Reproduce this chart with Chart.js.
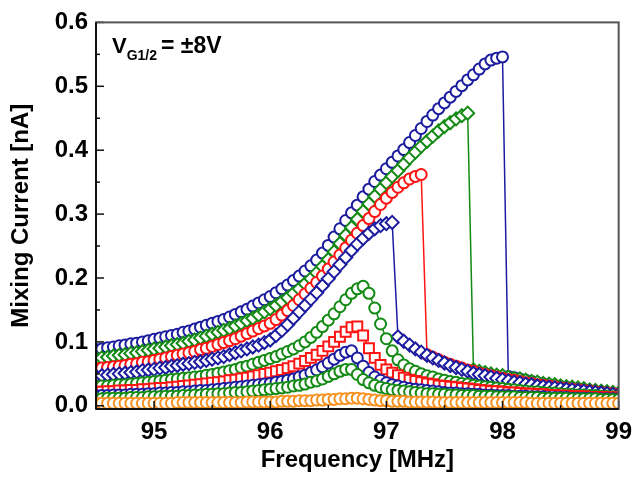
<!DOCTYPE html>
<html><head><meta charset="utf-8">
<script src="https://cdn.jsdelivr.net/npm/chart.js@4/dist/chart.umd.min.js"></script>
<style>html,body{margin:0;padding:0;background:#fff}canvas{display:block}</style>
</head><body>
<canvas id="c" width="641" height="477"></canvas>
<script>
// Frequency grid [MHz]
const FREQ = [
94.50,94.55,94.60,94.65,94.70,94.75,94.80,94.85,94.90,94.95,
95.00,95.05,95.10,95.15,95.20,95.25,95.30,95.35,95.40,95.45,
95.50,95.55,95.60,95.65,95.70,95.75,95.80,95.85,95.90,95.95,
96.00,96.05,96.10,96.15,96.20,96.25,96.30,96.35,96.40,96.45,
96.50,96.55,96.60,96.65,96.70,96.75,96.80,96.85,96.90,96.95,
97.00,97.05,97.10,97.15,97.20,97.25,97.30,97.35,97.40,97.45,
97.50,97.55,97.60,97.65,97.70,97.75,97.80,97.85,97.90,97.95,
98.00,98.05,98.10,98.15,98.20,98.25,98.30,98.35,98.40,98.45,
98.50,98.55,98.60,98.65,98.70,98.75,98.80,98.85,98.90,98.95,
99.00];

// Mixing current [nA], one array per drive level
const S9_BLUE_CIRCLE = [
.088,.089,.091,.092,.094,.095,.097,.098,.100,.102,
.104,.106,.108,.110,.112,.115,.117,.120,.123,.126,
.129,.132,.135,.139,.143,.147,.151,.156,.161,.166,
.171,.177,.183,.189,.196,.203,.211,.219,.228,.239,
.251,.264,.277,.290,.302,.314,.327,.339,.351,.361,
.371,.381,.391,.401,.412,.423,.434,.445,.455,.465,
.474,.483,.492,.501,.510,.518,.527,.535,.541,.544,
.546,.046,.044,.042,.040,.038,.036,.034,.033,.031,
.030,.029,.027,.026,.025,.024,.022,.021,.020,.019,
.018];
const S8_GREEN_DIAMOND = [
.074,.075,.076,.078,.079,.080,.082,.083,.085,.087,
.089,.090,.092,.094,.096,.098,.101,.103,.106,.109,
.112,.115,.118,.121,.125,.129,.133,.137,.142,.147,
.152,.157,.163,.169,.176,.183,.191,.199,.208,.218,
.229,.241,.254,.267,.279,.292,.304,.316,.328,.339,
.349,.359,.368,.378,.388,.397,.406,.414,.422,.430,
.437,.443,.449,.454,.458,.056,.054,.052,.050,.048,
.047,.045,.043,.042,.040,.038,.037,.035,.034,.033,
.031,.030,.029,.028,.027,.025,.024,.023,.022,.021,
.020];
const S7_RED_CIRCLE = [
.058,.059,.060,.061,.062,.063,.065,.066,.068,.069,
.071,.073,.075,.077,.079,.081,.083,.085,.088,.090,
.093,.096,.099,.102,.105,.109,.113,.117,.121,.125,
.129,.135,.142,.149,.157,.166,.175,.184,.193,.203,
.214,.225,.236,.247,.259,.270,.282,.293,.304,.315,
.325,.334,.342,.349,.355,.359,.362,.080,.076,.072,
.068,.065,.062,.059,.056,.054,.051,.049,.047,.045,
.043,.041,.040,.038,.036,.035,.033,.032,.031,.030,
.028,.027,.026,.025,.024,.023,.022,.021,.020,.019,
.018];
const S6_BLUE_DIAMOND = [
.046,.047,.048,.049,.050,.051,.052,.053,.055,.056,
.057,.059,.060,.062,.063,.065,.066,.068,.069,.071,
.073,.075,.077,.080,.083,.086,.089,.092,.095,.099,
.103,.110,.118,.127,.137,.147,.157,.167,.177,.188,
.199,.210,.221,.232,.243,.253,.262,.270,.277,.282,
.285,.287,.108,.101,.095,.089,.084,.079,.075,.071,
.067,.063,.060,.057,.054,.051,.049,.047,.045,.043,
.041,.039,.037,.036,.034,.033,.031,.030,.029,.028,
.027,.026,.025,.024,.023,.022,.021,.020,.019,.018,
.017];
const S5_GREEN_CIRCLE = [
.030,.031,.031,.032,.033,.033,.034,.035,.036,.037,
.038,.039,.040,.041,.042,.043,.044,.045,.046,.048,
.049,.051,.053,.055,.057,.060,.062,.065,.068,.071,
.074,.077,.081,.085,.089,.094,.100,.107,.115,.124,
.134,.144,.155,.166,.176,.183,.187,.176,.153,.128,
.105,.086,.072,.064,.058,.054,.050,.047,.045,.042,
.040,.038,.037,.035,.034,.032,.031,.030,.029,.028,
.027,.026,.025,.024,.023,.022,.022,.021,.020,.020,
.019,.018,.018,.017,.017,.016,.016,.015,.015,.014,
.014];
const S4_RED_SQUARE = [
.022,.022,.023,.023,.024,.024,.025,.025,.026,.026,
.027,.028,.028,.029,.030,.031,.032,.033,.034,.035,
.036,.037,.038,.040,.041,.043,.044,.046,.048,.050,
.052,.054,.056,.059,.062,.066,.070,.075,.080,.086,
.093,.100,.108,.116,.123,.124,.110,.090,.075,.064,
.057,.052,.048,.044,.041,.039,.037,.035,.034,.032,
.031,.030,.029,.028,.027,.026,.025,.024,.023,.023,
.022,.021,.021,.020,.019,.019,.018,.018,.017,.017,
.016,.016,.015,.015,.015,.014,.014,.014,.013,.013,
.013];
const S3_BLUE_CIRCLE = [
.016,.016,.016,.017,.017,.017,.018,.018,.018,.019,
.019,.020,.020,.021,.021,.022,.022,.023,.024,.024,
.025,.026,.027,.028,.029,.030,.031,.032,.033,.034,
.035,.037,.038,.040,.042,.045,.048,.052,.056,.061,
.067,.073,.079,.084,.086,.075,.062,.052,.045,.040,
.036,.033,.031,.029,.027,.026,.025,.024,.023,.022,
.021,.020,.020,.019,.019,.018,.018,.017,.017,.016,
.016,.016,.015,.015,.015,.014,.014,.014,.013,.013,
.013,.013,.012,.012,.012,.012,.011,.011,.011,.011,
.011];
const S2_GREEN_CIRCLE = [
.011,.011,.012,.012,.012,.012,.013,.013,.013,.014,
.014,.014,.015,.015,.015,.016,.016,.017,.017,.018,
.018,.019,.019,.020,.021,.021,.022,.023,.024,.025,
.026,.027,.028,.029,.031,.032,.034,.037,.039,.042,
.046,.050,.054,.057,.057,.049,.041,.036,.032,.029,
.027,.025,.024,.023,.022,.021,.020,.019,.019,.018,
.018,.017,.017,.016,.016,.016,.015,.015,.015,.014,
.014,.014,.014,.013,.013,.013,.013,.012,.012,.012,
.012,.012,.011,.011,.011,.011,.011,.010,.010,.010,
.010];
const S1_ORANGE_CIRCLE = [
.004,.004,.004,.004,.004,.004,.004,.004,.004,.004,
.004,.004,.004,.004,.005,.005,.005,.005,.005,.005,
.005,.005,.005,.005,.005,.005,.006,.006,.006,.006,
.006,.006,.007,.007,.007,.008,.008,.008,.009,.009,
.010,.010,.011,.011,.012,.012,.011,.010,.009,.008,
.008,.007,.007,.007,.006,.006,.006,.006,.006,.005,
.005,.005,.005,.005,.005,.005,.005,.005,.005,.005,
.005,.005,.005,.005,.005,.004,.004,.004,.004,.004,
.004,.004,.004,.004,.004,.004,.004,.004,.004,.004,
.004];

const X_TICKS = [95, 96, 97, 98, 99];
const X_MINOR = [94.5, 95.5, 96.5, 97.5, 98.5];
const Y_TICKS = [0.0, 0.1, 0.2, 0.3, 0.4, 0.5, 0.6];
const Y_MINOR = [0.05, 0.15, 0.25, 0.35, 0.45, 0.55];

const BLUE = '#1c1ca0', GREEN = '#138a13', RED = '#ff1414', ORANGE = '#f7901e';
const FONT = '"Liberation Sans", Arial, Helvetica, sans-serif';

const seriesDefs = [
  {vals: S1_ORANGE_CIRCLE, color: ORANGE, style: 'circle', r: 5.5},
  {vals: S2_GREEN_CIRCLE, color: GREEN, style: 'circle', r: 5.5},
  {vals: S3_BLUE_CIRCLE, color: BLUE, style: 'circle', r: 5.5},
  {vals: S4_RED_SQUARE, color: RED, style: 'rect', r: 7},
  {vals: S5_GREEN_CIRCLE, color: GREEN, style: 'circle', r: 5.5},
  {vals: S6_BLUE_DIAMOND, color: BLUE, style: 'rectRot', r: 6.5},
  {vals: S7_RED_CIRCLE, color: RED, style: 'circle', r: 5.5},
  {vals: S8_GREEN_DIAMOND, color: GREEN, style: 'rectRot', r: 6.5},
  {vals: S9_BLUE_CIRCLE, color: BLUE, style: 'circle', r: 5.5}
];

const datasets = seriesDefs.map(s => ({
  data: FREQ.map((f, i) => ({x: f, y: s.vals[i]})),
  showLine: true,
  borderColor: s.color,
  borderWidth: 1.5,
  pointStyle: s.style,
  pointRadius: s.r,
  pointBorderWidth: 2,
  pointBorderColor: s.color,
  pointBackgroundColor: '#ffffff',
  pointHoverRadius: s.r
}));

const decor = {
  id: 'decor',
  afterDraw(chart) {
    const {ctx, chartArea: a, scales: {x, y}} = chart;
    ctx.save();
    ctx.strokeStyle = '#111';
    ctx.lineWidth = 1.5;
    const seg = (x1, y1, x2, y2) => { ctx.beginPath(); ctx.moveTo(x1, y1); ctx.lineTo(x2, y2); ctx.stroke(); };
    X_TICKS.forEach(v => { const p = x.getPixelForValue(v); seg(p, a.bottom, p, a.bottom - 8); });
    X_MINOR.forEach(v => { const p = x.getPixelForValue(v); seg(p, a.bottom, p, a.bottom - 4); });
    Y_TICKS.forEach(v => { const p = y.getPixelForValue(v); seg(a.left, p, a.left + 8, p); });
    Y_MINOR.forEach(v => { const p = y.getPixelForValue(v); seg(a.left, p, a.left + 4, p); });
    // frame
    ctx.strokeStyle = '#555';
    ctx.lineWidth = 2;
    ctx.strokeRect(a.left, a.top, a.right - a.left, a.bottom - a.top);
    ctx.strokeStyle = '#111';
    seg(a.left, a.top, a.left, a.bottom);
    seg(a.left, a.bottom, a.right, a.bottom);
    // annotation
    ctx.fillStyle = '#000';
    ctx.textBaseline = 'alphabetic';
    let tx = a.left + 16, by = a.top + 31;
    ctx.font = 'bold 22px ' + FONT;
    ctx.fillText('V', tx, by);
    tx += ctx.measureText('V').width;
    ctx.font = 'bold 14px ' + FONT;
    ctx.fillText('G1/2', tx, by + 7);
    tx += ctx.measureText('G1/2').width + 4;
    ctx.font = 'bold 23px ' + FONT;
    ctx.fillText('= \u00b18V', tx, by);
    ctx.restore();
  }
};

new Chart(document.getElementById('c'), {
  type: 'scatter',
  data: {datasets},
  options: {
    responsive: false,
    animation: false,
    devicePixelRatio: 1,
    layout: {padding: {left: 0, right: 14, top: 17, bottom: 0}},
    plugins: {legend: {display: false}, tooltip: {enabled: false}},
    scales: {
      x: {
        type: 'linear', min: 94.5, max: 99,
        afterBuildTicks: s => { s.ticks = X_TICKS.map(v => ({value: v})); },
        afterFit: s => { s.height = 68; },
        grid: {display: false, drawTicks: false},
        border: {display: false},
        ticks: {padding: 9, color: '#000', autoSkip: false, maxRotation: 0,
                font: {family: FONT, size: 24, weight: 'bold'},
                callback: v => String(v)},
        title: {display: true, text: 'Frequency [MHz]', color: '#000',
                font: {family: FONT, size: 24, weight: 'bold'}, padding: {top: 0, bottom: 2}}
      },
      y: {
        type: 'linear', min: -0.005, max: 0.6,
        afterBuildTicks: s => { s.ticks = Y_TICKS.map(v => ({value: v})); },
        afterFit: s => { s.width = 96; },
        grid: {display: false, drawTicks: false},
        border: {display: false},
        ticks: {padding: 8, color: '#000',
                font: {family: FONT, size: 24, weight: 'bold'},
                callback: v => Number(v).toFixed(1)},
        title: {display: true, text: 'Mixing Current [nA]', color: '#000',
                font: {family: FONT, size: 24, weight: 'bold'}, padding: {top: 7, bottom: 0}}
      }
    }
  },
  plugins: [decor]
});
</script>
</body></html>
